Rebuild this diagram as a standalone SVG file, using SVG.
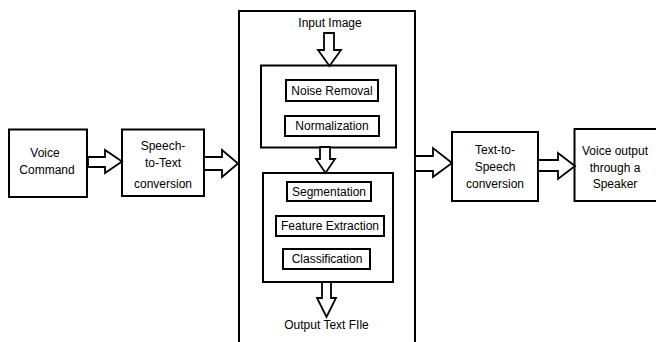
<svg xmlns="http://www.w3.org/2000/svg" width="656" height="342" viewBox="0 0 656 342">
<style>
.b{fill:#fff;stroke:#000;stroke-width:2}
.a{fill:#fff;stroke:#000;stroke-width:1.8;stroke-linejoin:miter}
text{font-family:"Liberation Sans",Arial,sans-serif;font-size:12px;fill:#000;text-anchor:middle}
</style>
<rect width="656" height="342" fill="#fff"/>
<g id="voice-command"><rect class="b" x="9" y="129.5" width="78" height="67.5"/><text x="45" y="157">Voice</text><text x="47" y="173.5">Command</text></g>
<g id="speech-to-text"><rect class="b" x="122" y="129.5" width="82" height="66.5"/><text x="163" y="150">Speech-</text><text x="163" y="167">to-Text</text><text x="163" y="188">conversion</text></g>
<g id="ocr-block"><rect class="b" x="239" y="11" width="176" height="340"/><text x="330" y="27">Input Image</text><text x="326.5" y="329">Output Text FIle</text></g>
<g id="preprocessing"><rect class="b" x="261" y="65.5" width="135" height="82"/></g>
<g id="noise-removal"><rect class="b" x="286" y="80" width="92" height="21"/><text x="332" y="95">Noise Removal</text></g>
<g id="normalization"><rect class="b" x="285" y="116" width="94" height="20"/><text x="332" y="130">Normalization</text></g>
<g id="recognition"><rect class="b" x="263" y="173" width="130" height="109"/></g>
<g id="segmentation"><rect class="b" x="287" y="182" width="84" height="19"/><text x="329" y="196">Segmentation</text></g>
<g id="feature-extraction"><rect class="b" x="276" y="216" width="108" height="20"/><text x="330" y="230">Feature Extraction</text></g>
<g id="classification"><rect class="b" x="283" y="249" width="87" height="20"/><text x="327" y="263">Classification</text></g>
<g id="text-to-speech"><rect class="b" x="452" y="132" width="86" height="69"/><text x="495" y="154">Text-to-</text><text x="495" y="171">Speech</text><text x="495" y="188">conversion</text></g>
<g id="voice-output"><rect class="b" x="574.5" y="129" width="86" height="72"/><text x="615" y="155">Voice output</text><text x="615" y="171.5">through a</text><text x="615" y="188">Speaker</text></g>
<g id="connectors">
<polygon class="a" points="88,157 105,157 105,150 122,161.5 105,173 105,167 88,167"/>
<polygon class="a" points="204,157 222,157 222,150 238,163.5 222,177 222,170 204,170"/>
<polygon class="a" points="415,156 433,156 433,148 452,163 433,177 433,171 415,171"/>
<polygon class="a" points="538,160 558,160 558,153 575,166 558,179 558,171 538,171"/>
<polygon class="a" points="324,33 334,33 334,50 341,50 329.5,66 318,50 324,50"/>
<polygon class="a" points="320,147 330,147 330,159 335,159 325.5,173 316,159 320,159"/>
<polygon class="a" points="322,282 331,282 331,298 336,298 326.5,317 317,298 322,298"/>
</g>
</svg>
